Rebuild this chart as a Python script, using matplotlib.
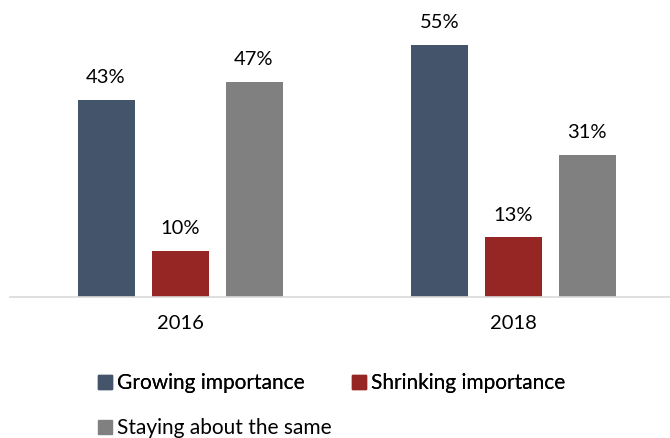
import matplotlib
matplotlib.use("Agg")
import matplotlib.pyplot as plt
import numpy as np
from matplotlib.patches import Patch

plt.rcParams['font.family'] = ['Lato', 'DejaVu Sans']

years = ["2016", "2018"]
series = ["Growing importance", "Shrinking importance", "Staying about the same"]
values = {
    "Growing importance": [43, 55],
    "Shrinking importance": [10, 13],
    "Staying about the same": [47, 31],
}
colors = ["#44546A", "#952623", "#808080"]

fig = plt.figure(figsize=(6.7, 4.38), dpi=100)
ax = fig.add_axes([10/670, 1-297/438, 660/670, (297-22)/438])

x = np.arange(len(years))
width = 0.171
offset = 0.222
for i, s in enumerate(series):
    pos = x + (i - 1) * offset
    bars = ax.bar(pos, values[s], width=width, color=colors[i])
    for b, v in zip(bars, values[s]):
        ax.text(b.get_x() + b.get_width()/2, v + 3.0, f"{v}%", ha="center",
                va="bottom", fontsize=14.5, color="#000000")

ax.set_xlim(-0.51, 1.47)
ax.set_ylim(0, 60)
ax.set_xticks(x)
ax.set_xticklabels(years, fontsize=14.5)
ax.tick_params(axis="x", length=0, pad=13)
ax.set_yticks([])
for sp in ["top", "left", "right"]:
    ax.spines[sp].set_visible(False)
ax.spines["bottom"].set_color("#D9D9D9")
ax.spines["bottom"].set_linewidth(1.2)

leg_kw = dict(frameon=False, fontsize=15, handlelength=0.65, handleheight=0.65,
              handletextpad=0.25, borderaxespad=0, borderpad=0)
h = [Patch(facecolor=c, edgecolor=c) for c in colors]
# Row 1: first two entries; row 2: third entry (flow layout like the original)
leg1 = fig.legend(h[:2], series[:2], loc="center left",
                  bbox_to_anchor=(98/670, 1-383/438), ncol=2,
                  columnspacing=2.3, **leg_kw)
fig.add_artist(leg1)
fig.legend(h[2:], series[2:], loc="center left",
           bbox_to_anchor=(98/670, 1-428/438), ncol=1, **leg_kw)

fig.savefig("out.png", dpi=100)
